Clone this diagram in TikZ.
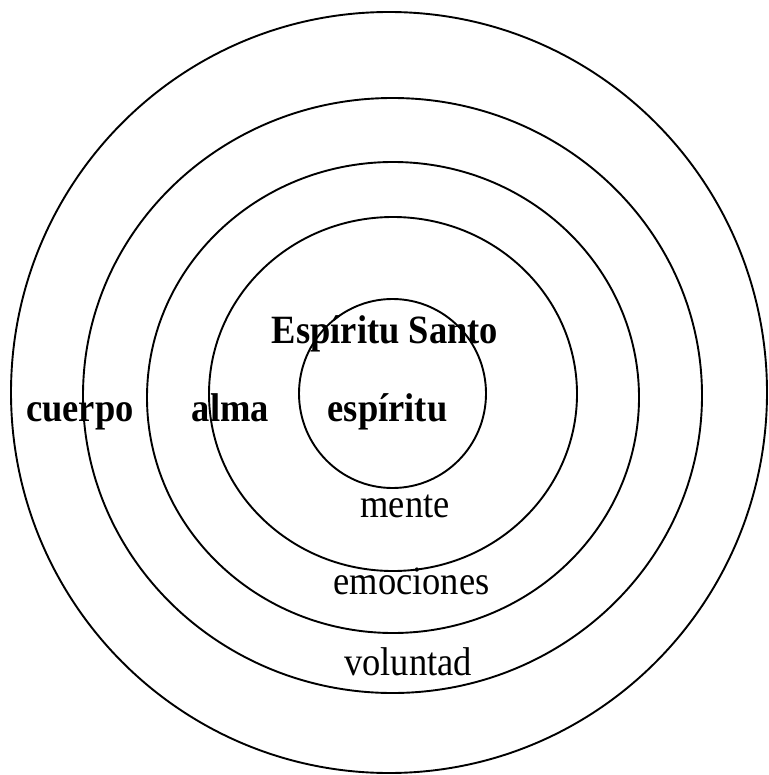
\documentclass[tikz,border=0pt]{standalone}
\usepackage{fontspec}
\usepackage{graphicx}
\setmainfont{Liberation Serif}
\newcommand{\tallt}[1]{\scalebox{1}[1.1]{#1}}
\begin{document}
\begin{tikzpicture}[x=1pt,y=-1pt,
  ring/.style={draw=black,line width=1.9pt},
  lbl/.style={anchor=base,inner sep=0pt,font=\fontsize{36.5}{40}\selectfont},
  blbl/.style={lbl,font=\fontsize{36.5}{40}\selectfont\bfseries}]
\useasboundingbox (0,0) rectangle (768,775);
\fill[white] (0,0) rectangle (768,775);
\draw[ring] (389,392.5) ellipse [x radius=378,y radius=380.5];
\draw[ring] (392.5,395.5) ellipse [x radius=309.5,y radius=297.5];
\draw[ring] (393,397.5) ellipse [x radius=246,y radius=235.5];
\draw[ring] (393,394) ellipse [x radius=184,y radius=177];
\draw[ring] (392.5,393.5) ellipse [x radius=93.5,y radius=94.5];
\node[blbl] (santo) at (385,343) {\tallt{Espíritu Santo}};
\node[blbl] (cuerpo) at (80,421) {\tallt{cuerpo}};
\node[blbl] (alma) at (230.5,421) {\tallt{alma}};
\node[blbl] (espiritu) at (387.5,421) {\tallt{espíritu}};
\node[lbl] (mente) at (405,517) {\tallt{mente}};
\node[lbl] (emociones) at (411.5,594) {\tallt{emociones}};
\node[lbl] (voluntad) at (408,675) {\tallt{voluntad}};
\end{tikzpicture}
\end{document}
